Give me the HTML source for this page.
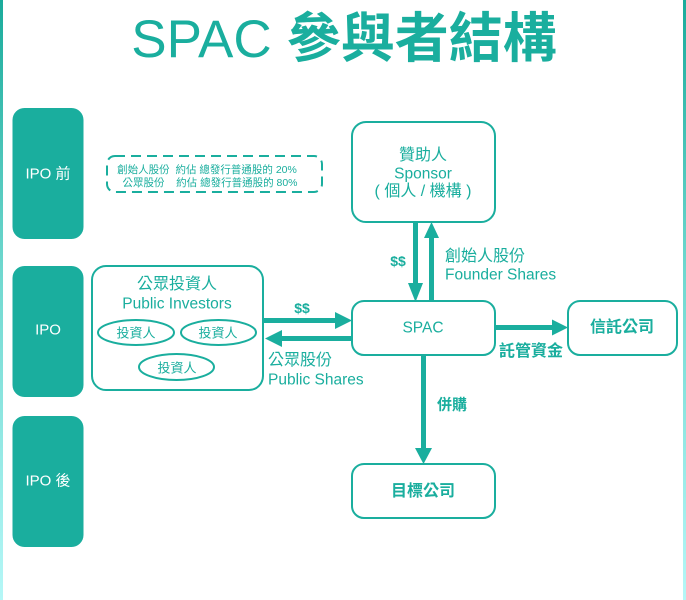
<!DOCTYPE html>
<html><head><meta charset="utf-8">
<style>
html,body{margin:0;padding:0;}
body{width:686px;height:600px;position:relative;overflow:hidden;background:#fff;font-family:"Liberation Sans","Noto Sans CJK TC",sans-serif;color:#1aae9e;}
.t{position:absolute;white-space:nowrap;line-height:1;}
.c{transform:translate(-50%,-50%);text-align:center;}
.l{transform:translateY(-50%);}
.w{color:#fff;}
.b{font-weight:bold;}
</style></head><body>
<div style="position:absolute;left:0;top:0;width:3px;height:600px;background:linear-gradient(#1aab9b,#6fd8cf 45%,#b5f7f7);"></div>
<div style="position:absolute;left:683px;top:0;width:3px;height:600px;background:linear-gradient(#1aab9b,#6fd8cf 45%,#b5f7f7);"></div>

<svg width="686" height="600" style="position:absolute;left:0;top:0">
<g fill="#1aae9e">
<rect x="12.5" y="108" width="71" height="131" rx="12"/>
<rect x="12.5" y="266" width="71" height="131" rx="12"/>
<rect x="12.5" y="416" width="71" height="131" rx="12"/>
</g>
<g fill="none" stroke="#1aae9e" stroke-width="2">
<rect x="107" y="156" width="215" height="36" rx="8" stroke-dasharray="10 6"/>
<rect x="92" y="266" width="171" height="124" rx="14"/>
<ellipse cx="136" cy="332.5" rx="38" ry="12.5"/>
<ellipse cx="218.5" cy="332.5" rx="37.5" ry="12.5"/>
<ellipse cx="176.5" cy="367" rx="37.5" ry="13"/>
<rect x="352" y="122" width="143" height="100" rx="14"/>
<rect x="352" y="301" width="143" height="54" rx="12"/>
<rect x="568" y="301" width="109" height="54" rx="12"/>
<rect x="352" y="464" width="143" height="54" rx="12"/>
</g>
<g fill="#1aae9e">
<rect x="263" y="318" width="74" height="5"/>
<polygon points="335,312 352,320.5 335,329"/>
<rect x="280" y="336" width="72" height="5"/>
<polygon points="282,330 265,338.5 282,347"/>
<rect x="413" y="222" width="5" height="63"/>
<polygon points="408,283 415.5,302 423,283"/>
<rect x="429" y="236" width="5" height="65"/>
<polygon points="424,238 431.5,222 439,238"/>
<rect x="495" y="325" width="59" height="5"/>
<polygon points="552,319.5 568,327.5 552,335.5"/>
<rect x="421" y="355" width="5" height="95"/>
<polygon points="415,448 423.5,464 432,448"/>
</g>
</svg>

<div class="t c" style="left:344px;top:39px;font-size:54px;"><span style="font-size:53px;">SPAC</span> <span style="font-weight:600;">參與者結構</span></div>

<div class="t c w" style="left:48px;top:174px;font-size:15px;">IPO 前</div>
<div class="t c w" style="left:48px;top:330px;font-size:15px;">IPO</div>
<div class="t c w" style="left:48px;top:481px;font-size:15px;">IPO 後</div>

<div class="t c" style="left:207px;top:170px;font-size:10.5px;">創始人股份&nbsp; 約佔 總發行普通股的 20%</div>
<div class="t c" style="left:210px;top:183px;font-size:10.5px;">公眾股份&nbsp;&nbsp;&nbsp; 約佔 總發行普通股的 80%</div>

<div class="t c" style="left:177px;top:285px;font-size:16px;">公眾投資人</div>
<div class="t c" style="left:177px;top:304px;font-size:15.5px;">Public Investors</div>
<div class="t c" style="left:136px;top:333px;font-size:13px;">投資人</div>
<div class="t c" style="left:218px;top:333px;font-size:13px;">投資人</div>
<div class="t c" style="left:177px;top:368px;font-size:13px;">投資人</div>

<div class="t c b" style="left:302px;top:308px;font-size:14px;">$$</div>
<div class="t l" style="left:268px;top:361px;font-size:16px;">公眾股份</div>
<div class="t l" style="left:268px;top:380px;font-size:15.5px;">Public Shares</div>

<div class="t c" style="left:423px;top:156px;font-size:16px;">贊助人</div>
<div class="t c" style="left:423px;top:174px;font-size:15.5px;">Sponsor</div>
<div class="t c" style="left:423px;top:192px;font-size:16px;">( 個人 / 機構 )</div>

<div class="t c b" style="left:398px;top:261px;font-size:14px;">$$</div>
<div class="t l" style="left:445px;top:257px;font-size:16px;">創始人股份</div>
<div class="t l" style="left:445px;top:275px;font-size:15.5px;">Founder Shares</div>

<div class="t c" style="left:423px;top:328px;font-size:15.5px;">SPAC</div>
<div class="t c b" style="left:622px;top:328px;font-size:16px;">信託公司</div>
<div class="t l b" style="left:499px;top:352px;font-size:16px;">託管資金</div>
<div class="t l b" style="left:437px;top:405px;font-size:15px;">併購</div>
<div class="t c b" style="left:423px;top:492px;font-size:16px;">目標公司</div>
</body></html>
